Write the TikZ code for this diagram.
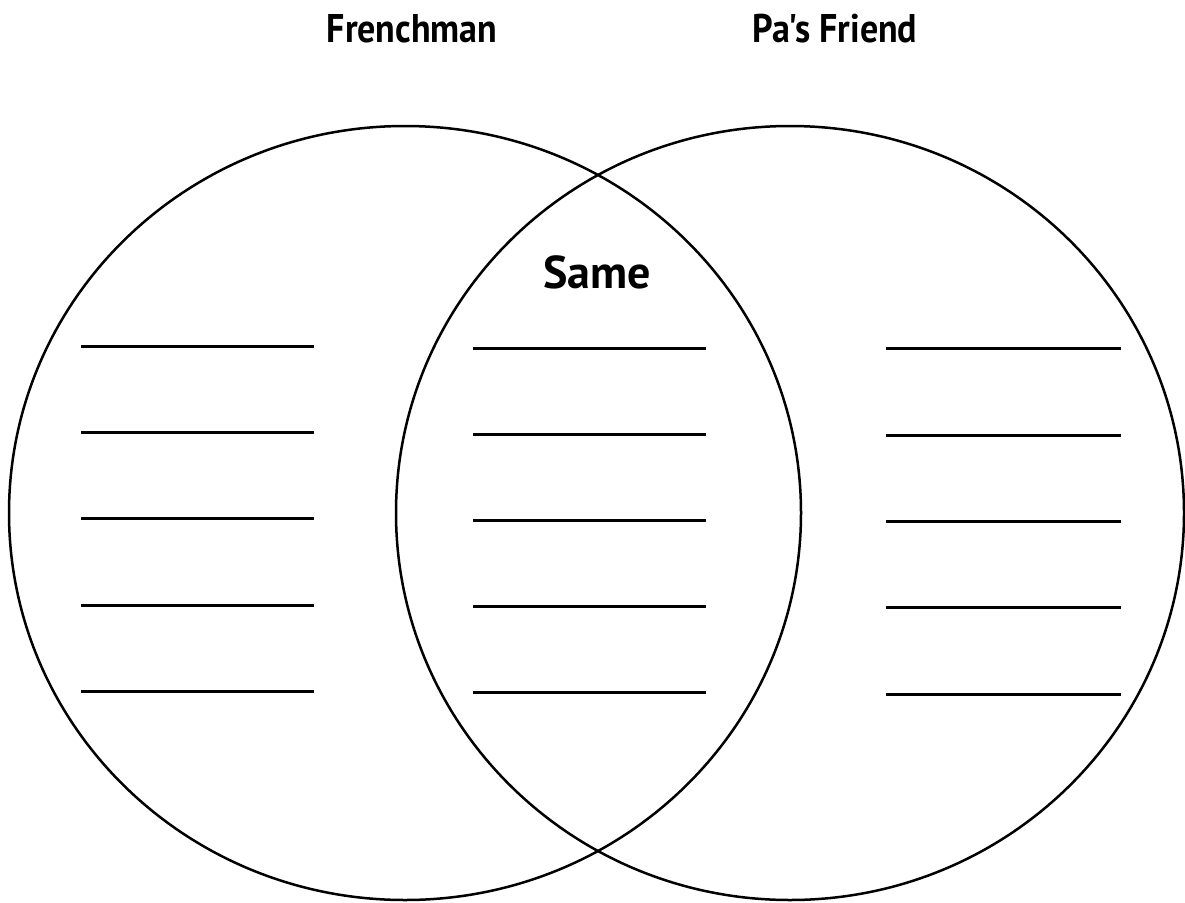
\documentclass[tikz,border=0pt]{standalone}
\usepackage{fontspec}
\newfontfamily\headfont{PT Sans}[Ligatures=ResetAll,FakeStretch=0.9]
\newfontfamily\samefont{PT Sans}[Ligatures=ResetAll]
\begin{document}
\begin{tikzpicture}[x=1pt,y=-1pt,
  ring/.style={draw=black,line width=2.5pt},
  blank/.style={draw=black,line width=3pt},
  heading/.style={font=\headfont\fontsize{40}{46}\selectfont\bfseries,inner sep=0pt,anchor=base},
  midhead/.style={heading,font=\samefont\fontsize{46}{52}\selectfont\bfseries}]
\useasboundingbox[fill=white] (0,0) rectangle (1185,902);
\draw[ring] (405,513) ellipse [x radius=396, y radius=387];
\draw[ring] (790,513) ellipse [x radius=394, y radius=387];
\node[heading] (french) at (412,42) {Frenchman};
\node[heading] (friend) at (835,42) {Pa's Friend};
\node[midhead] (same) at (597,288) {Same};
\foreach \y [count=\i] in {346,432,518,605,691} {
  \draw[blank] (81,\y) -- (314,\y);
}
\foreach \y [count=\i] in {348,434,520,606,692} {
  \draw[blank] (473,\y) -- (706,\y);
}
\foreach \y [count=\i] in {348,435,521,607,694} {
  \draw[blank] (886,\y) -- (1121,\y);
}
\end{tikzpicture}
\end{document}
